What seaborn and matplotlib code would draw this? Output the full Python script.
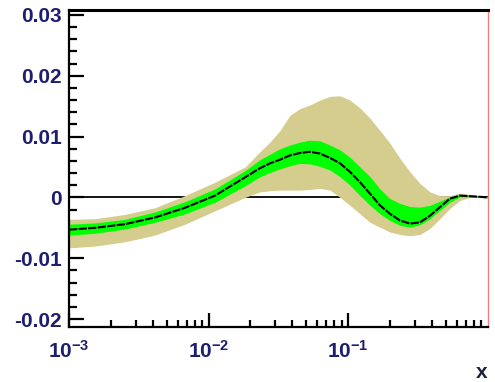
import numpy as np
import pandas as pd
import matplotlib
matplotlib.use("Agg")
import matplotlib.pyplot as plt
import seaborn as sns
from matplotlib.ticker import FixedLocator, MultipleLocator, LogLocator, NullFormatter

# ---- data ----
log_x = [-3.0, -2.814, -2.599, -2.384, -2.168, -1.953, -1.738, -1.631, -1.559, -1.487,
         -1.416, -1.344, -1.272, -1.201, -1.129, -1.057, -0.986, -0.914, -0.842, -0.771,
         -0.699, -0.627, -0.556, -0.484, -0.412, -0.341, -0.269, -0.197, -0.125, -0.054, 0.0]
central = [-0.0053, -0.0050, -0.0044, -0.0033, -0.0017, 0.0003, 0.0033, 0.0048, 0.0056, 0.0062,
           0.0069, 0.0073, 0.0075, 0.0072, 0.0065, 0.0056, 0.0042, 0.0025, 0.0006, -0.0013,
           -0.0027, -0.0038, -0.0043, -0.0041, -0.0030, -0.0016, -0.0002, 0.0003, 0.0002,
           0.0001, 0.0000]
green_hi = [-0.0044, -0.0042, -0.0036, -0.0024, -0.0007, 0.0014, 0.0044, 0.0062, 0.0071, 0.0080,
            0.0086, 0.0091, 0.0094, 0.0093, 0.0086, 0.0078, 0.0066, 0.0050, 0.0034, 0.0014,
            -0.0002, -0.0010, -0.0015, -0.0016, -0.0013, -0.0006, 0.0001, 0.0004, 0.0003,
            0.0002, 0.0001]
green_lo = [-0.0062, -0.0059, -0.0052, -0.0041, -0.0027, -0.0008, 0.0019, 0.0034, 0.0041, 0.0047,
            0.0052, 0.0056, 0.0055, 0.0051, 0.0045, 0.0034, 0.0020, 0.0003, -0.0013, -0.0027,
            -0.0038, -0.0046, -0.0049, -0.0045, -0.0035, -0.0021, -0.0008, 0.0001, 0.0001,
            0.0000, -0.0001]
tan_hi = [-0.0036, -0.0035, -0.0028, -0.0017, 0.0003, 0.0025, 0.0050, 0.0075, 0.0091, 0.0110,
          0.0135, 0.0146, 0.0152, 0.0160, 0.0166, 0.0167, 0.0160, 0.0147, 0.0130, 0.0110,
          0.0089, 0.0064, 0.0042, 0.0023, 0.0009, 0.0003, 0.0003, 0.0007, 0.0005,
          0.0002, 0.0001]
tan_lo = [-0.0083, -0.0080, -0.0073, -0.0062, -0.0044, -0.0022, 0.0000, 0.0009, 0.0011, 0.0012,
          0.0012, 0.0012, 0.0013, 0.0015, 0.0012, 0.0000, -0.0013, -0.0027, -0.0041, -0.0049,
          -0.0057, -0.0061, -0.0063, -0.0061, -0.0051, -0.0035, -0.0018, -0.0005, 0.0000,
          0.0000, -0.0001]
y_ticks = [-0.02, -0.01, 0.0, 0.01, 0.02, 0.03]
y_tick_labels = ["-0.02", "-0.01", "0", "0.01", "0.02", "0.03"]
x_ticks = [1e-3, 1e-2, 1e-1]
x_tick_labels = [r"$\mathbf{10^{-3}}$", r"$\mathbf{10^{-2}}$", r"$\mathbf{10^{-1}}$"]
x_label = "x"

sns.set_style("white")
plt.rcParams["font.family"] = ["Liberation Sans", "DejaVu Sans"]
plt.rcParams["mathtext.fontset"] = "custom"
plt.rcParams["mathtext.rm"] = "Liberation Sans"
plt.rcParams["mathtext.it"] = "Liberation Sans"
plt.rcParams["mathtext.bf"] = "Liberation Sans:bold"

x = np.power(10.0, np.array(log_x))
df = pd.DataFrame({"x": x, "central": central, "green_hi": green_hi, "green_lo": green_lo,
                   "tan_hi": tan_hi, "tan_lo": tan_lo})

fig = plt.figure(figsize=(4.95, 3.82), dpi=100)
ax = fig.add_axes([69 / 495, 55 / 382, 418.5 / 495, 317 / 382])
ax.set_xscale("log")

# zero line (under bands)
ax.axhline(0.0, color="black", lw=1.3, zorder=1)
ax.fill_between(df["x"], df["tan_lo"], df["tan_hi"], color="#d5cd8d", lw=0, zorder=2)
ax.fill_between(df["x"], df["green_lo"], df["green_hi"], color="#00ff00", lw=0, zorder=3)
sns.lineplot(data=df, x="x", y="central", ax=ax, color="black", lw=1.5,
             linestyle=(0, (4, 0.6)), zorder=4)

ax.set_xlim(1e-3, 1.0)
ax.set_ylim(-0.0213, 0.0308)

tick_color = "#1e1e6e"
ax.yaxis.set_major_locator(FixedLocator(y_ticks))
ax.set_yticklabels(y_tick_labels, fontweight="bold")
ax.yaxis.set_minor_locator(MultipleLocator(0.002))
ax.xaxis.set_major_locator(FixedLocator(x_ticks))
ax.set_xticklabels(x_tick_labels)
ax.xaxis.set_minor_locator(LogLocator(base=10, subs=np.arange(2, 10)))
ax.xaxis.set_minor_formatter(NullFormatter())

ax.tick_params(axis="both", which="both", direction="in", color="black",
               left=True, bottom=True, top=False, right=False,
               labelcolor=tick_color, labelsize=15)
ax.tick_params(axis="y", which="major", length=11, width=1.6, pad=5)
ax.tick_params(axis="y", which="minor", length=6, width=1.6)
ax.tick_params(axis="x", which="major", length=10, width=1.6, pad=9)
ax.tick_params(axis="x", which="minor", length=5, width=1.6)

ax.set_xlabel("")
ax.set_ylabel("")
for side in ["left", "bottom"]:
    ax.spines[side].set_color("black")
    ax.spines[side].set_linewidth(1.6)
ax.spines["top"].set_color("black")
ax.spines["top"].set_linewidth(2.2)
ax.spines["right"].set_color("#f08080")
ax.spines["right"].set_linewidth(1.0)
for s in ax.spines.values():
    s.set_visible(True)
    s.set_zorder(6)

fig.text(482 / 495, 1 - 372 / 382, x_label, ha="center", va="center", fontsize=15,
         fontweight="bold", color="#1e1e3e")

fig.savefig("out.png", dpi=100)
